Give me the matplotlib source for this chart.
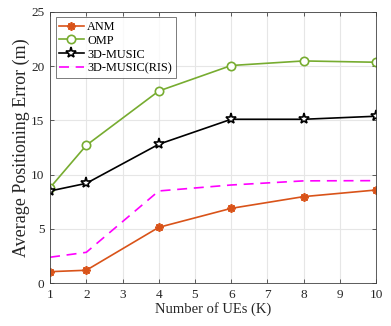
import numpy as np
import matplotlib
matplotlib.use('Agg')
import matplotlib.pyplot as plt

plt.rcParams['font.family'] = ['Liberation Serif', 'DejaVu Serif']
plt.rcParams['mathtext.fontset'] = 'stix'

# data
K         = [1, 2, 4, 6, 8, 10]
anm       = [1.07, 1.2, 5.15, 6.9, 7.98, 8.59]
omp       = [8.8, 12.7, 17.7, 20.05, 20.47, 20.35]
music     = [8.5, 9.2, 12.8, 15.1, 15.1, 15.38]
music_ris = [2.4, 2.85, 8.5, 9.05, 9.43, 9.45]

fig = plt.figure(figsize=(3.91, 3.26), dpi=100)
ax = fig.add_axes([0.128, 0.131, 0.834, 0.833])

ax.plot(K, anm, color='#D95319', marker=(8, 2, 0), ms=6, mew=1.3, lw=1.2, label='ANM')
ax.plot(K, omp, color='#77AC30', marker='o', ms=6, mfc='white', mew=1.2, lw=1.2, label='OMP')
ax.plot(K, music, color='black', marker='*', ms=8, mfc='white', mew=1.2, lw=1.2, label='3D-MUSIC')
ax.plot(K, music_ris, color='#FF00FF', ls=(0, (6, 4)), lw=1.2, label='3D-MUSIC(RIS)')

ax.set_xlim(1, 10)
ax.set_ylim(0, 25)
ax.set_xticks(range(1, 11))
ax.set_yticks([0, 5, 10, 15, 20, 25])
ax.grid(True, color='#e6e6e6', lw=0.8)
ax.set_axisbelow(True)
for s in ax.spines.values():
    s.set_color('#404040')
    s.set_linewidth(0.6)
ax.tick_params(direction='in', length=3, width=0.6, labelsize=9.5, colors='#404040',
               pad=4, top=True, right=True)
ax.tick_params(labelcolor='#262626')
ax.set_xlabel('Number of UEs (K)', fontsize=10.5, color='#262626', labelpad=1)
ax.set_ylabel('Average Positioning Error (m)', fontsize=13, color='#262626', labelpad=1)

leg = ax.legend(loc='upper left', fontsize=8.8, frameon=True, fancybox=False,
                edgecolor='#404040', borderpad=0.3, labelspacing=0.15,
                handlelength=2.0, handletextpad=0.3, borderaxespad=0.45)
leg.get_frame().set_linewidth(0.6)

fig.savefig('out.png', dpi=100)
